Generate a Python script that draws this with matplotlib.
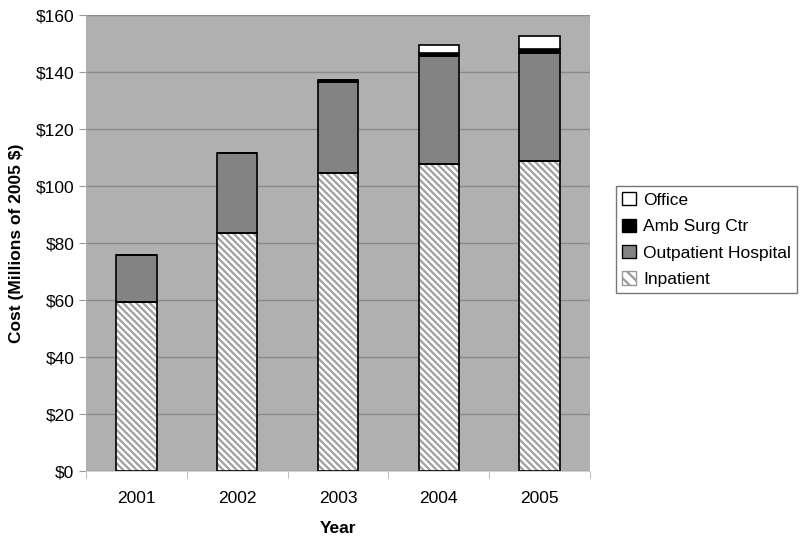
import numpy as np
import matplotlib.pyplot as plt
from matplotlib.patches import Patch

plt.rcParams['font.family'] = ['Liberation Sans', 'DejaVu Sans']
plt.rcParams['hatch.linewidth'] = 1.6

years = ['2001', '2002', '2003', '2004', '2005']
inpatient = [59.3, 83.5, 104.5, 107.7, 109.0]
outpatient = [16.5, 28.1, 32.2, 38.0, 37.8]
amb_surg = [0.0, 0.0, 0.4, 1.2, 1.3]
office = [0.0, 0.0, 0.1, 2.6, 4.6]

fig = plt.figure(figsize=(8, 5.44), dpi=100)
ax = fig.add_axes([0.1075, 0.134, 0.63, 0.838])
ax.set_facecolor('#b0b0b0')

x = np.arange(len(years))
w = 0.4
hatch = '\\' * 5
bottom = np.zeros(len(years))
# hatched fill (gray lines), then a black outline on top
ax.bar(x, inpatient, w, bottom=bottom, color='white', edgecolor='#a0a0a0',
       hatch=hatch, linewidth=0, zorder=3)
ax.bar(x, inpatient, w, bottom=bottom, fill=False, edgecolor='black',
       linewidth=1.2, zorder=4)
bottom += inpatient
ax.bar(x, outpatient, w, bottom=bottom, color='#838383', edgecolor='black',
       linewidth=1.2, zorder=3)
bottom += outpatient
ax.bar(x, amb_surg, w, bottom=bottom, color='black', edgecolor='black',
       linewidth=1.2, zorder=3)
bottom += amb_surg
ax.bar(x, office, w, bottom=bottom, color='white', edgecolor='black',
       linewidth=1.2, zorder=3)

ax.set_xlim(-0.5, len(years) - 0.5)
ax.set_ylim(0, 160)
ax.set_yticks(np.arange(0, 161, 20))
ax.set_yticklabels([f'${v}' for v in range(0, 161, 20)], fontsize=12.5)
ax.yaxis.grid(True, color='#8a8a8a', linewidth=1, zorder=0)
ax.set_xticks(x)
ax.set_xticklabels(years, fontsize=12.5)
ax.set_xticks(np.arange(-0.5, len(years)), minor=True)
ax.tick_params(axis='x', which='major', length=0, pad=14)
ax.tick_params(axis='x', which='minor', length=5, color='#b0b0b0')
ax.tick_params(axis='y', length=5, color='#999999')
for s in ['top', 'right']:
    ax.spines[s].set_visible(False)
ax.spines['left'].set_color('#b0b0b0')
ax.spines['bottom'].set_color('#d0d0d0')

ax.set_xlabel('Year', fontsize=12.5, fontweight='bold', labelpad=11)
ax.set_ylabel('Cost (Millions of 2005 $)', fontsize=12.5, fontweight='bold', labelpad=8)

handles = [
    Patch(facecolor='white', edgecolor='black', label='Office'),
    Patch(facecolor='black', edgecolor='black', label='Amb Surg Ctr'),
    Patch(facecolor='#838383', edgecolor='black', label='Outpatient Hospital'),
    Patch(facecolor='white', edgecolor='#999999', hatch='\\\\\\', label='Inpatient'),
]
leg = fig.legend(handles=handles, loc='upper left', bbox_to_anchor=(0.77, 0.658),
                 borderaxespad=0, fontsize=12.5, frameon=True, fancybox=False,
                 handlelength=0.8, handleheight=0.8, handletextpad=0.4,
                 labelspacing=0.62, borderpad=0.35)
leg.get_frame().set_edgecolor('#555555')
leg.get_frame().set_linewidth(1)

fig.savefig('out.png', dpi=100)
